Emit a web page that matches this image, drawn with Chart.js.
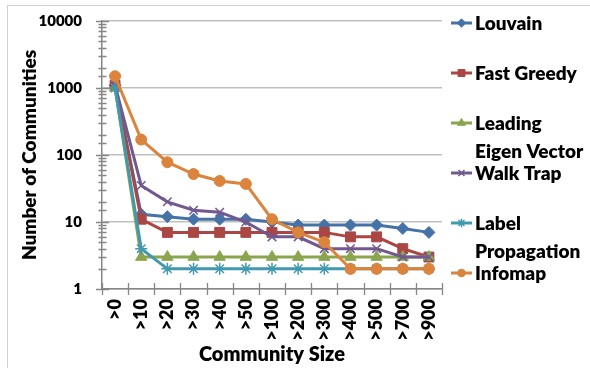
<!DOCTYPE html>
<html>
<head>
<meta charset="utf-8">
<script src="https://cdn.jsdelivr.net/npm/chart.js@4/dist/chart.umd.min.js"></script>
<style>
  html, body { margin: 0; padding: 0; background: #fff; overflow: hidden; }
  #wrap { position: relative; width: 590px; height: 368px; overflow: hidden; }
  #frame { position: absolute; left: 7px; top: 5px; width: 620px; height: 400px;
           border: 1.5px solid #d0d0d0; box-sizing: border-box; }
  canvas { position: absolute; left: 0; top: 0; }
</style>
</head>
<body>
<div id="wrap">
  <div id="frame"></div>
  <canvas id="chart" width="590" height="368"></canvas>
</div>
<script>
// Community counts per minimum community size, one array per algorithm
const categories = ['>0', '>10', '>20', '>30', '>40', '>50', '>100', '>200', '>300', '>400', '>500', '>700', '>900'];
const seriesNames = ['Louvain', 'Fast Greedy', 'Leading\nEigen Vector', 'Walk Trap', 'Label\nPropagation', 'Infomap'];
const louvain      = [1100, 13, 12, 11, 11, 11, 10, 9, 9, 9, 9, 8, 7];
const fastGreedy   = [1100, 11, 7, 7, 7, 7, 7, 7, 7, 6, 6, 4, 3];
const leadingEigen = [1000, 3, 3, 3, 3, 3, 3, 3, 3, 3, 3, 3, 3];
const walkTrap     = [1100, 35, 20, 15, 14, 10, 6, 6, 4, 4, 4, 3, 3];
const labelProp    = [1000, 4, 2, 2, 2, 2, 2, 2, 2, 2, 2, 2, 2];
const infomap      = [1500, 170, 78, 52, 41, 37, 11, 7, 5, 2, 2, 2, 2];
const yTickValues  = [1, 10, 100, 1000, 10000];

const seriesValues = [louvain, fastGreedy, leadingEigen, walkTrap, labelProp, infomap];
const colors = ['#4572A7', '#AA4643', '#89A54E', '#71588F', '#4198AF', '#DB843D'];
const markers = [
  { style: 'rectRot', r: 6 },
  { style: 'rect', r: 7 },
  { style: 'triangle', r: 6.5 },
  { style: 'crossRot', r: 6 },
  { style: 'star', r: 6 },
  { style: 'circle', r: 5.5 }
];

const FONT = 'Lato, "Liberation Sans", sans-serif';
const WEIGHT = '800';
const isDecade = v => Math.abs(Math.log10(v) - Math.round(Math.log10(v))) < 1e-9;

const datasets = seriesValues.map((vals, i) => ({
  label: seriesNames[i].replace('\n', ' '),
  data: vals,
  borderColor: colors[i],
  backgroundColor: colors[i],
  pointBorderColor: colors[i],
  pointBackgroundColor: colors[i],
  borderWidth: 3,
  pointStyle: markers[i].style,
  pointRadius: markers[i].r,
  pointBorderWidth: (markers[i].style === 'crossRot' || markers[i].style === 'star') ? 1.5 : 1,
  tension: 0,
  fill: false,
  order: seriesValues.length - i
}));

// Axis tick marks that cross the axis lines, plus the side legend
const decorations = {
  id: 'decorations',
  afterDatasetsDraw(chart) {
    const { ctx, chartArea } = chart;
    const y = chart.scales.y;
    ctx.save();
    ctx.strokeStyle = '#868686';
    ctx.lineWidth = 1.3;
    ctx.beginPath();
    y.ticks.forEach(t => {
      const py = Math.round(y.getPixelForValue(t.value)) + 0.5;
      const major = isDecade(t.value);
      ctx.moveTo(chartArea.left - (major ? 6 : 3.5), py);
      ctx.lineTo(chartArea.left + (major ? 7 : 4.5), py);
    });
    const n = categories.length;
    for (let k = 0; k <= n; k++) {
      const px = chartArea.left + (chartArea.right - chartArea.left) * k / n;
      ctx.moveTo(Math.round(px) + 0.5, chartArea.bottom - 6);
      ctx.lineTo(Math.round(px) + 0.5, chartArea.bottom + 6);
    }
    ctx.stroke();
    ctx.restore();
  },
  afterDraw(chart) {
    const { ctx } = chart;
    ctx.save();
    ctx.font = WEIGHT + ' 19px ' + FONT;
    ctx.textBaseline = 'middle';
    ctx.textAlign = 'left';
    chart.data.datasets.forEach((ds, i) => {
      const cy = 23 + 50 * i;
      ctx.strokeStyle = ds.borderColor;
      ctx.lineWidth = 3;
      ctx.beginPath();
      ctx.moveTo(451, cy);
      ctx.lineTo(472, cy);
      ctx.stroke();
      ctx.fillStyle = ds.borderColor;
      ctx.strokeStyle = ds.borderColor;
      ctx.lineWidth = ds.pointBorderWidth;
      Chart.helpers.drawPoint(ctx, { pointStyle: ds.pointStyle, radius: ds.pointRadius * 0.7, rotation: 0, borderWidth: ds.pointBorderWidth }, 461.5, cy);
      ctx.fillStyle = '#000';
      seriesNames[i].split('\n').forEach((line, j) => {
        ctx.fillText(line, 475, cy + 1 + 28 * j);
      });
    });
    ctx.restore();
  }
};

new Chart(document.getElementById('chart'), {
  type: 'line',
  data: { labels: categories, datasets },
  options: {
    responsive: false,
    animation: false,
    events: [],
    layout: { padding: { left: 15, right: 148, top: 21, bottom: 1 } },
    plugins: { legend: { display: false }, tooltip: { enabled: false } },
    scales: {
      x: {
        type: 'category',
        offset: true,
        grid: { display: true, drawOnChartArea: false, drawTicks: false, offset: true },
        border: { display: true, color: '#868686', width: 1.5 },
        ticks: {
          color: '#000',
          font: { family: FONT, size: 18, weight: WEIGHT },
          minRotation: 90, maxRotation: 90,
          autoSkip: false,
          padding: 10
        },
        title: {
          display: true, text: 'Community Size', color: '#000',
          font: { family: FONT, size: 20, weight: WEIGHT },
          padding: { top: 4, bottom: 0 }
        },
        afterFit(scale) { scale.height = 368 - 289 - 1; }
      },
      y: {
        type: 'logarithmic',
        min: 1, max: 10000,
        grid: {
          drawTicks: true,
          tickLength: 20,
          tickColor: 'rgba(0,0,0,0)',
          color: c => (c.tick && isDecade(c.tick.value)) ? '#bfbfbf' : 'rgba(0,0,0,0)',
          lineWidth: 1.5
        },
        border: { display: true, color: '#868686', width: 1.5 },
        ticks: {
          color: '#000',
          font: { family: FONT, size: 15, weight: WEIGHT },
          padding: 0,
          autoSkip: false,
          callback: v => yTickValues.includes(v) ? String(v) : ''
        },
        title: {
          display: true, text: 'Number of Communities', color: '#000',
          font: { family: FONT, size: 19, weight: WEIGHT },
          padding: { top: 3, bottom: 0 }
        },
        afterFit(scale) { scale.width = 102 - 15; }
      }
    }
  },
  plugins: [decorations]
});
</script>
</body>
</html>
